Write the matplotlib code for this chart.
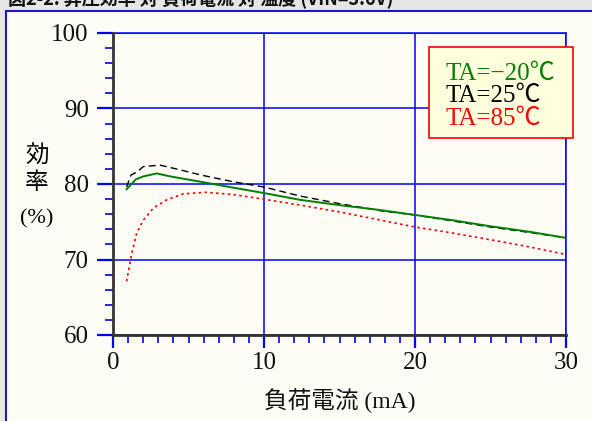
import matplotlib
matplotlib.use("Agg")
import matplotlib.pyplot as plt
from matplotlib.patches import Rectangle
from matplotlib.ticker import MultipleLocator

# ---- data ----
x_m20 = [0.9, 1.5, 2.0, 2.9, 3.8, 5.8, 8.0, 10.0, 12.4, 15.0, 17.5, 20.0, 22.5, 25.0, 27.5, 29.9]
y_m20 = [79.3, 80.6, 81.0, 81.4, 81.0, 80.3, 79.5, 78.8, 77.9, 77.2, 76.6, 75.9, 75.2, 74.4, 73.7, 72.9]

x_25 = [0.9, 1.06, 1.2, 1.6, 2.0, 3.1, 4.4, 5.8, 7.95, 10.0, 12.4, 15.0, 17.9, 20.0, 22.5, 25.0, 27.5, 29.9]
y_25 = [79.6, 80.5, 81.2, 81.6, 82.3, 82.5, 81.9, 81.2, 80.3, 79.6, 78.4, 77.4, 76.4, 75.9, 75.1, 74.3, 73.6, 72.9]

x_85 = [0.9, 1.24, 1.57, 2.0, 2.67, 3.55, 4.66, 6.2, 7.97, 9.95, 12.4, 15.0, 17.5, 20.0, 22.5, 25.6, 27.5, 29.9]
y_85 = [67.1, 70.8, 73.5, 75.2, 76.8, 77.9, 78.7, 78.9, 78.6, 78.0, 77.2, 76.3, 75.3, 74.3, 73.5, 72.4, 71.7, 70.7]

legend_labels = ["TA=\u221220\u2103", "TA=25\u2103", "TA=85\u2103"]
legend_colors = ["#008000", "#000000", "#ff0000"]

W, H = 592, 421
fig = plt.figure(figsize=(W / 100, H / 100), dpi=100)
fig.patch.set_facecolor("#e6e6e6")

cream = "#fdfdf6"
blue = "#0000ff"

# panel
panel = Rectangle((5.5 / W, -0.05), 1.2, 1 - 10.5 / H + 0.05,
                  transform=fig.transFigure, facecolor=cream,
                  edgecolor="#1a1acc", linewidth=1.5, zorder=-5)
fig.patches.append(panel)

# title (cut off at top edge, as in the reference)
fig.text(8 / W, 1 - 5 / H, "図2-2. 昇圧効率 対 負荷電流 対 温度 (VIN=3.6V)",
         fontsize=13, family=["Noto Sans CJK JP", "DejaVu Sans"], fontweight="bold",
         ha="left", va="baseline", color="#111111")

ax = fig.add_axes([113 / W, 1 - 335 / H, (566 - 113) / W, (335 - 33) / H])
ax.set_zorder(2)
ax.set_facecolor(cream)
ax.set_xlim(0, 30)
ax.set_ylim(60, 100)

ax.xaxis.set_major_locator(MultipleLocator(10))
ax.xaxis.set_minor_locator(MultipleLocator(1))
ax.yaxis.set_major_locator(MultipleLocator(10))
ax.yaxis.set_minor_locator(MultipleLocator(2))

ax.grid(True, which="major", color=blue, linewidth=1.1, zorder=1)
ax.set_axisbelow(True)

for s in ["top", "right"]:
    ax.spines[s].set_color(blue)
    ax.spines[s].set_linewidth(1.1)
for s in ["left", "bottom"]:
    ax.spines[s].set_color("#333333")
    ax.spines[s].set_linewidth(2.0)
    ax.spines[s].set_zorder(5)

ax.tick_params(axis="y", which="major", direction="out", length=11.5, width=1.6,
               color=blue, pad=6, labelsize=18)
ax.tick_params(axis="y", which="minor", direction="out", length=6, width=1.2, color=blue)
ax.tick_params(axis="x", which="major", direction="out", length=9.5, width=1.6,
               color=blue, pad=3, labelsize=18)
ax.tick_params(axis="x", which="minor", direction="out", length=6, width=1.2, color=blue)

for lab in ax.get_xticklabels() + ax.get_yticklabels():
    lab.set_family("Liberation Serif")
    lab.set_color("#111111")

ax.plot(x_25, y_25, color="#000000", linewidth=1.0, linestyle=(0, (5, 3)), zorder=3)
ax.plot(x_85, y_85, color="#ff0000", linewidth=1.2, linestyle=(0, (1.5, 2)), zorder=3)
ax.plot(x_m20, y_m20, color="#008000", linewidth=1.4, zorder=4)

# legend box
ax.add_patch(Rectangle((429 / W, 1 - 138 / H), (573 - 429) / W, (138 - 47) / H,
                       transform=fig.transFigure, facecolor="#ffffdd",
                       edgecolor="#ff0000", linewidth=1.2, zorder=6, clip_on=False))
ys = [80, 102, 125]
for lab, col, yy in zip(legend_labels, legend_colors, ys):
    ax.text(446 / W, 1 - yy / H, lab, color=col, fontsize=18,
            family=["Liberation Serif", "Noto Sans CJK JP"], ha="left", va="baseline",
            transform=fig.transFigure, zorder=7)

# y label
ylab_font = ["Liberation Serif", "Noto Sans CJK JP"]
fig.text(37 / W, 1 - 157 / H, "効", fontsize=17, family=ylab_font, ha="center", va="center")
fig.text(37 / W, 1 - 183 / H, "率", fontsize=17, family=ylab_font, ha="center", va="center")
fig.text(37 / W, 1 - 219 / H, "(%)", fontsize=16, family=ylab_font, ha="center", va="center")

# x label
fig.text(340 / W, 1 - 401 / H, "負荷電流 (mA)", fontsize=17, family=ylab_font,
         ha="center", va="center", color="#111111")

fig.savefig("out.png", dpi=100, facecolor=fig.get_facecolor())
